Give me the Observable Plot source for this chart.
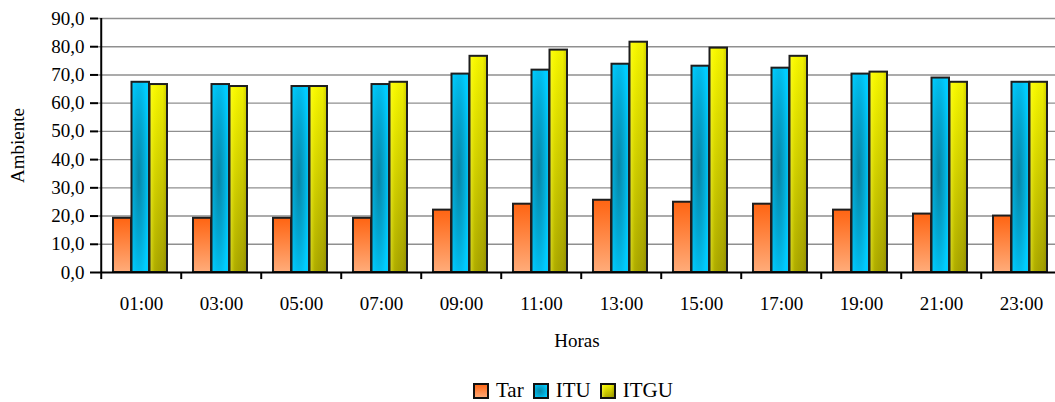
<!DOCTYPE html>
<html>
<head>
<meta charset="utf-8">
<script src="https://cdn.jsdelivr.net/npm/d3@7"></script>
<script src="https://cdn.jsdelivr.net/npm/@observablehq/plot@0.6"></script>
<style>
  body { margin: 0; background: #fff; font-family: "Liberation Serif", serif; }
  #wrap { position: relative; width: 1055px; height: 402px; overflow: hidden; }
  #chart svg text { font-family: "Liberation Serif", serif; font-size: 19px; }
  #legend { position: absolute; top: 380px; left: 473px; display: flex; align-items: center; font-family: "Liberation Serif", serif; font-size: 21px; color: #000; line-height: 1; }
  #legend .item { display: flex; align-items: center; margin-right: 9px; }
  #legend svg { margin-right: 7px; display: block; }
  g[aria-label="y-axis tick"] { stroke-width: 2; }
</style>
</head>
<body>
<svg width="0" height="0" style="position:absolute">
  <defs>
    <linearGradient id="gTar" x1="0" y1="0" x2="0" y2="1">
      <stop offset="0" stop-color="#ff6412"/>
      <stop offset="1" stop-color="#ffac7a"/>
    </linearGradient>
    <radialGradient id="gITU" cx="0.42" cy="0.5" r="0.6">
      <stop offset="0" stop-color="#0786a6"/>
      <stop offset="0.55" stop-color="#03a9d4"/>
      <stop offset="1" stop-color="#00ccff"/>
    </radialGradient>
    <linearGradient id="gITGU" x1="0" y1="0" x2="0" y2="1">
      <stop offset="0" stop-color="#f8f800"/>
      <stop offset="1" stop-color="#a7a300"/>
    </linearGradient>
    <linearGradient id="gITGUh" x1="0" y1="0" x2="1" y2="0">
      <stop offset="0" stop-color="#ffff60" stop-opacity="0.55"/>
      <stop offset="0.3" stop-color="#ffff00" stop-opacity="0.1"/>
      <stop offset="0.75" stop-color="#555500" stop-opacity="0.05"/>
      <stop offset="1" stop-color="#404000" stop-opacity="0.25"/>
    </linearGradient>
  </defs>
</svg>
<div id="wrap">
  <div id="chart"></div>
  <div id="legend"></div>
</div>
<script>
// Hourly readings
const hours = ["01:00", "03:00", "05:00", "07:00", "09:00", "11:00", "13:00", "15:00", "17:00", "19:00", "21:00", "23:00"];
const tar  = [19.2, 19.2, 19.2, 19.2, 22.1, 24.2, 25.6, 24.9, 24.2, 22.1, 20.7, 20.0];
const itu  = [67.4, 66.6, 65.9, 66.6, 70.3, 71.7, 73.8, 73.1, 72.4, 70.3, 68.9, 67.4];
const itgu = [66.6, 65.9, 65.9, 67.4, 76.6, 78.8, 81.6, 79.5, 76.6, 71.0, 67.4, 67.4];
const seriesNames = ["Tar", "ITU", "ITGU"];
const yTicks = [0, 10, 20, 30, 40, 50, 60, 70, 80, 90];

const seriesValues = {Tar: tar, ITU: itu, ITGU: itgu};
const rows = seriesNames.flatMap(s => hours.map((h, i) => ({series: s, hour: h, value: seriesValues[s][i]})));

// Look of each series and where its bar sits inside the hour band
const style = {
  Tar:  {fill: "url(#gTar)",  overlay: null,           insetLeft: 12,   insetRight: 50},
  ITU:  {fill: "url(#gITU)",  overlay: null,           insetLeft: 30.5, insetRight: 32},
  ITGU: {fill: "url(#gITGU)", overlay: "url(#gITGUh)", insetLeft: 48.5, insetRight: 14}
};

const W = 1055, H = 360;
const xRange = [98, 1064.5];
const step = (xRange[1] - xRange[0]) / hours.length;
const fmt = d => d.toFixed(1).replace(".", ",");

const barMarks = seriesNames.flatMap(s => {
  const st = style[s];
  const data = rows.filter(r => r.series === s);
  const base = {x: "hour", y: "value", insetLeft: st.insetLeft, insetRight: st.insetRight};
  const marks = [Plot.barY(data, {...base, fill: st.fill})];
  if (st.overlay) marks.push(Plot.barY(data, {...base, fill: st.overlay}));
  marks.push(Plot.barY(data, {...base, fill: "none", stroke: "#1e1e1e", strokeWidth: 2}));
  return marks;
});

const chart = Plot.plot({
  width: W,
  height: H,
  marginLeft: 98,
  marginRight: 0,
  marginTop: 18,
  marginBottom: 88,
  style: {fontFamily: "'Liberation Serif', serif", fontSize: "19px", color: "#000", background: "#fff", overflow: "visible"},
  x: {domain: hours, range: xRange, padding: 0, tickSize: 0, tickPadding: 24, label: "Horas", labelArrow: false, labelAnchor: "center", labelOffset: 74},
  y: {domain: [0, 90], ticks: yTicks, tickFormat: fmt, tickSize: 8, tickPadding: 6, label: "Ambiente", labelArrow: false, labelAnchor: "center", labelOffset: 88},
  marks: [
    Plot.ruleY(yTicks.slice(1), {stroke: "#8f8f8f", strokeWidth: 1.4}),
    ...barMarks,
    Plot.ruleY([0], {stroke: "#000", strokeWidth: 2}),
    Plot.ruleX([hours[0]], {x: d => d, dx: -step / 2, y1: 0, y2: 90, stroke: "#000", strokeWidth: 2}),
    Plot.ruleX(hours, {x: d => d, dx: -step / 2, y1: 0, y2: -2.5, stroke: "#000", strokeWidth: 2})
  ]
});
document.getElementById("chart").appendChild(chart);

// Legend
const legend = d3.select("#legend");
for (const s of seriesNames) {
  const item = legend.append("div").attr("class", "item");
  const sw = item.append("svg").attr("width", 16).attr("height", 16);
  sw.append("rect").attr("x", 1).attr("y", 1).attr("width", 14).attr("height", 14)
    .attr("fill", style[s].fill).attr("stroke", "#111").attr("stroke-width", 2);
  if (style[s].overlay) {
    sw.append("rect").attr("x", 2).attr("y", 2).attr("width", 12).attr("height", 12).attr("fill", style[s].overlay);
  }
  item.append("span").text(s);
}
</script>
</body>
</html>
